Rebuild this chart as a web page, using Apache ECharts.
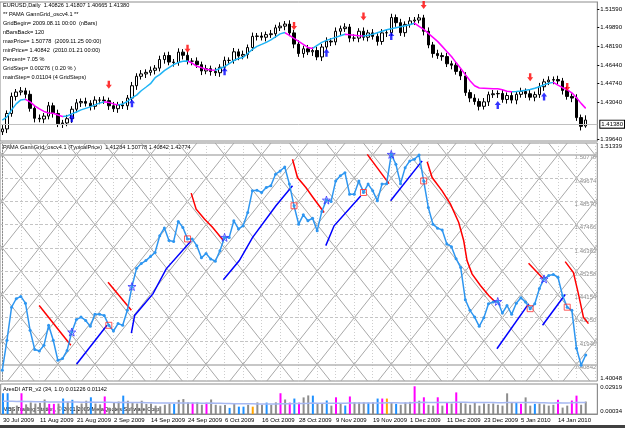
<!DOCTYPE html>
<html lang="en">
<head>
<meta charset="UTF-8">
<title>EURUSD Daily - PAMA GannGrid</title>
<script src="https://cdn.jsdelivr.net/npm/echarts/dist/echarts.min.js"></script>
<style>
  html, body { margin: 0; padding: 0; background: #ffffff; }
  #main { width: 625px; height: 428px; }
</style>
</head>
<body>
<div id="main"></div>
<script>
var FONT = 'Liberation Sans';
var SLOTS = 129; // 127 bars + chart shift on the right

// x axis date labels, one every 8 bars
var dateLabels = ['30 Jul 2009', '11 Aug 2009', '21 Aug 2009', '2 Sep 2009', '14 Sep 2009', '24 Sep 2009',
  '6 Oct 2009', '16 Oct 2009', '28 Oct 2009', '9 Nov 2009', '19 Nov 2009', '1 Dec 2009',
  '11 Dec 2009', '23 Dec 2009', '5 Jan 2010', '14 Jan 2010'];

// EURUSD daily candles
var opens = [1.4030, 1.4056, 1.4198, 1.4355, 1.4395, 1.4406, 1.4374, 1.4245, 1.4154, 1.4147,
  1.4174, 1.4269, 1.4198, 1.4103, 1.4111, 1.4150, 1.4237, 1.4296, 1.4308, 1.4292,
  1.4264, 1.4321, 1.4321, 1.4316, 1.4269, 1.4242, 1.4277, 1.4269, 1.4340, 1.4453,
  1.4540, 1.4562, 1.4576, 1.4595, 1.4615, 1.4694, 1.4731, 1.4671, 1.4667, 1.4762,
  1.4733, 1.4679, 1.4679, 1.4647, 1.4589, 1.4610, 1.4584, 1.4573, 1.4623, 1.4686,
  1.4686, 1.4765, 1.4726, 1.4741, 1.4804, 1.4907, 1.4910, 1.4899, 1.4923, 1.4931,
  1.4986, 1.5001, 1.5020, 1.4939, 1.4836, 1.4749, 1.4793, 1.4765, 1.4777, 1.4718,
  1.4809, 1.4863, 1.4856, 1.4954, 1.4978, 1.4993, 1.4891, 1.4891, 1.4954, 1.4899,
  1.4939, 1.4907, 1.4860, 1.4939, 1.4941, 1.5080, 1.5033, 1.4941, 1.5017, 1.5049,
  1.5057, 1.5077, 1.4954, 1.4828, 1.4749, 1.4730, 1.4721, 1.4655, 1.4642, 1.4585,
  1.4543, 1.4390, 1.4340, 1.4308, 1.4264, 1.4305, 1.4371, 1.4379, 1.4382, 1.4327,
  1.4363, 1.4321, 1.4374, 1.4400, 1.4379, 1.4348, 1.4371, 1.4444, 1.4489, 1.4505,
  1.4510, 1.4497, 1.4410, 1.4355, 1.4340, 1.4160, 1.4083];
var closes = [1.4056, 1.4198, 1.4355, 1.4395, 1.4406, 1.4374, 1.4245, 1.4154, 1.4147, 1.4174,
  1.4269, 1.4198, 1.4103, 1.4111, 1.4150, 1.4237, 1.4296, 1.4308, 1.4292, 1.4264,
  1.4321, 1.4321, 1.4316, 1.4269, 1.4242, 1.4277, 1.4269, 1.4340, 1.4453, 1.4540,
  1.4562, 1.4576, 1.4595, 1.4615, 1.4694, 1.4731, 1.4671, 1.4667, 1.4762, 1.4733,
  1.4679, 1.4679, 1.4647, 1.4589, 1.4610, 1.4584, 1.4573, 1.4623, 1.4686, 1.4686,
  1.4765, 1.4726, 1.4741, 1.4804, 1.4907, 1.4910, 1.4899, 1.4923, 1.4931, 1.4986,
  1.5001, 1.5020, 1.4939, 1.4836, 1.4749, 1.4793, 1.4765, 1.4777, 1.4718, 1.4809,
  1.4863, 1.4856, 1.4954, 1.4978, 1.4993, 1.4891, 1.4891, 1.4954, 1.4899, 1.4939,
  1.4907, 1.4860, 1.4939, 1.4941, 1.5080, 1.5033, 1.4941, 1.5017, 1.5049, 1.5057,
  1.5077, 1.4954, 1.4828, 1.4749, 1.4730, 1.4721, 1.4655, 1.4642, 1.4585, 1.4543,
  1.4390, 1.4340, 1.4308, 1.4264, 1.4305, 1.4371, 1.4379, 1.4382, 1.4327, 1.4363,
  1.4321, 1.4374, 1.4400, 1.4379, 1.4348, 1.4371, 1.4444, 1.4489, 1.4505, 1.4510,
  1.4497, 1.4410, 1.4355, 1.4340, 1.4160, 1.4080, 1.4138];
var highs = [1.4091, 1.4226, 1.4390, 1.4423, 1.4441, 1.4434, 1.4409, 1.4273, 1.4189, 1.4202,
  1.4304, 1.4297, 1.4233, 1.4139, 1.4185, 1.4265, 1.4331, 1.4336, 1.4343, 1.4320,
  1.4356, 1.4349, 1.4356, 1.4344, 1.4304, 1.4305, 1.4312, 1.4368, 1.4488, 1.4568,
  1.4597, 1.4604, 1.4630, 1.4643, 1.4729, 1.4759, 1.4766, 1.4699, 1.4797, 1.4790,
  1.4768, 1.4707, 1.4714, 1.4675, 1.4645, 1.4638, 1.4619, 1.4651, 1.4721, 1.4714,
  1.4800, 1.4793, 1.4776, 1.4832, 1.4942, 1.4938, 1.4945, 1.4951, 1.4966, 1.5014,
  1.5036, 1.5048, 1.5055, 1.4967, 1.4871, 1.4821, 1.4828, 1.4805, 1.4812, 1.4837,
  1.4898, 1.4891, 1.4989, 1.5006, 1.5028, 1.5021, 1.4926, 1.4982, 1.4989, 1.4967,
  1.4974, 1.4935, 1.4974, 1.4969, 1.5115, 1.5108, 1.5068, 1.5045, 1.5084, 1.5085,
  1.5112, 1.5105, 1.4989, 1.4856, 1.4784, 1.4758, 1.4756, 1.4683, 1.4677, 1.4613,
  1.4578, 1.4418, 1.4375, 1.4336, 1.4340, 1.4399, 1.4414, 1.4410, 1.4417, 1.4391,
  1.4398, 1.4402, 1.4435, 1.4428, 1.4414, 1.4399, 1.4479, 1.4517, 1.4540, 1.4538,
  1.4545, 1.4525, 1.4445, 1.4383, 1.4375, 1.4188, 1.4181];
var lows = [1.4000, 1.4018, 1.4168, 1.4317, 1.4365, 1.4336, 1.4215, 1.4116, 1.4117, 1.4109,
  1.4144, 1.4160, 1.4073, 1.4065, 1.4081, 1.4112, 1.4207, 1.4258, 1.4262, 1.4226,
  1.4234, 1.4283, 1.4286, 1.4231, 1.4212, 1.4204, 1.4239, 1.4231, 1.4310, 1.4415,
  1.4510, 1.4524, 1.4546, 1.4557, 1.4585, 1.4656, 1.4641, 1.4629, 1.4637, 1.4695,
  1.4649, 1.4641, 1.4617, 1.4551, 1.4559, 1.4546, 1.4543, 1.4535, 1.4593, 1.4648,
  1.4656, 1.4688, 1.4696, 1.4703, 1.4774, 1.4869, 1.4869, 1.4861, 1.4893, 1.4893,
  1.4956, 1.4963, 1.4909, 1.4798, 1.4719, 1.4711, 1.4735, 1.4727, 1.4688, 1.4680,
  1.4779, 1.4818, 1.4826, 1.4916, 1.4948, 1.4853, 1.4861, 1.4853, 1.4869, 1.4861,
  1.4877, 1.4822, 1.4830, 1.4901, 1.4911, 1.4995, 1.4911, 1.4903, 1.4987, 1.5011,
  1.5027, 1.4916, 1.4798, 1.4711, 1.4700, 1.4683, 1.4625, 1.4604, 1.4555, 1.4505,
  1.4360, 1.4302, 1.4278, 1.4226, 1.4234, 1.4267, 1.4341, 1.4341, 1.4297, 1.4289,
  1.4291, 1.4283, 1.4344, 1.4341, 1.4318, 1.4310, 1.4341, 1.4406, 1.4459, 1.4467,
  1.4467, 1.4372, 1.4325, 1.4302, 1.4130, 1.4042, 1.4067];

// smoothed PAMA line of the price pane (cyan rising, magenta falling)
var pama = [1.4138, 1.4166, 1.4231, 1.4286, 1.4323, 1.4328, 1.4305, 1.4268, 1.4240, 1.4217,
  1.4203, 1.4200, 1.4184, 1.4170, 1.4175, 1.4194, 1.4212, 1.4231, 1.4245, 1.4259,
  1.4277, 1.4293, 1.4305, 1.4300, 1.4286, 1.4277, 1.4286, 1.4308, 1.4342, 1.4367,
  1.4407, 1.4439, 1.4472, 1.4527, 1.4555, 1.4592, 1.4620, 1.4648, 1.4666, 1.4678,
  1.4680, 1.4662, 1.4632, 1.4620, 1.4604, 1.4597, 1.4595, 1.4611, 1.4629, 1.4657,
  1.4685, 1.4703, 1.4713, 1.4750, 1.4787, 1.4815, 1.4833, 1.4852, 1.4875, 1.4903,
  1.4930, 1.4942, 1.4917, 1.4889, 1.4861, 1.4833, 1.4805, 1.4796, 1.4824, 1.4852,
  1.4870, 1.4884, 1.4898, 1.4912, 1.4926, 1.4921, 1.4917, 1.4912, 1.4910, 1.4917,
  1.4926, 1.4940, 1.4954, 1.4968, 1.4977, 1.4986, 1.4995, 1.5005, 1.5014, 1.5028,
  1.5000, 1.4972, 1.4935, 1.4898, 1.4861, 1.4815, 1.4768, 1.4722, 1.4666, 1.4611,
  1.4555, 1.4500, 1.4453, 1.4432, 1.4430, 1.4428, 1.4426, 1.4425, 1.4416, 1.4402,
  1.4398, 1.4400, 1.4405, 1.4411, 1.4418, 1.4430, 1.4444, 1.4462, 1.4476, 1.4484,
  1.4458, 1.4435, 1.4416, 1.4388, 1.4342, 1.4291, 1.4245];

// signal arrows in the price pane
var sellBars = [23, 40, 63, 78, 91, 114, 122];
var sellArrowPrice = [1.4462, 1.4793, 1.5003, 1.5090, 1.5195, 1.4530, 1.4441];
var buyBars = [15, 28, 48, 70, 84, 107, 117];
var buyArrowPrice = [1.4154, 1.4291, 1.4586, 1.4756, 1.4910, 1.4277, 1.4354];

var priceTicks = [1.5159, 1.4989, 1.4819, 1.4644, 1.4474, 1.4304, 1.3964];
var lastPrice = 1.4138;
var priceRange = [1.3945, 1.5223];

// oscillator pane: typical price and Gann grid settings
var typical = [1.4056, 1.4198, 1.4355, 1.4395, 1.4406, 1.4374, 1.4245, 1.4154, 1.4147, 1.4174,
  1.4269, 1.4198, 1.4103, 1.4111, 1.4150, 1.4237, 1.4296, 1.4308, 1.4292, 1.4264,
  1.4321, 1.4321, 1.4316, 1.4269, 1.4242, 1.4277, 1.4269, 1.4340, 1.4453, 1.4540,
  1.4562, 1.4576, 1.4595, 1.4615, 1.4694, 1.4731, 1.4671, 1.4667, 1.4762, 1.4733,
  1.4679, 1.4679, 1.4647, 1.4589, 1.4610, 1.4584, 1.4573, 1.4623, 1.4686, 1.4686,
  1.4765, 1.4726, 1.4741, 1.4804, 1.4907, 1.4910, 1.4899, 1.4923, 1.4931, 1.4986,
  1.5001, 1.5020, 1.4939, 1.4836, 1.4749, 1.4793, 1.4765, 1.4777, 1.4718, 1.4809,
  1.4863, 1.4856, 1.4954, 1.4978, 1.4993, 1.4891, 1.4891, 1.4954, 1.4899, 1.4939,
  1.4907, 1.4860, 1.4939, 1.4941, 1.5080, 1.5033, 1.4941, 1.5017, 1.5049, 1.5057,
  1.5077, 1.4954, 1.4828, 1.4749, 1.4730, 1.4721, 1.4655, 1.4642, 1.4585, 1.4543,
  1.4390, 1.4340, 1.4308, 1.4264, 1.4305, 1.4371, 1.4379, 1.4382, 1.4327, 1.4363,
  1.4321, 1.4374, 1.4400, 1.4379, 1.4348, 1.4371, 1.4444, 1.4489, 1.4505, 1.4510,
  1.4497, 1.4410, 1.4355, 1.4340, 1.4160, 1.4080, 1.4128];
var minPrice = 1.40842, maxPrice = 1.50778, gridStep = 0.00276, mainStep = 0.01104;
var gridStartBar = 4;          // bar where a lattice vertex sits on the minPrice row
var oscRange = [1.40048, 1.51339];

var redFans = [
  [[7.96, 1.4363], [14.79, 1.4174]],
  [[22.83, 1.4473], [27.87, 1.4340]],
  [[40.79, 1.4896], [41.86, 1.4820], [43.65, 1.4773], [45.44, 1.4733], [47.74, 1.4671]],
  [[62.67, 1.5057], [63.75, 1.4970], [65.56, 1.4923], [67.34, 1.4868], [69.50, 1.4804]],
  [[78.82, 1.5080], [83.50, 1.4941]],
  [[91.75, 1.5045], [92.83, 1.4970], [94.98, 1.4907], [96.79, 1.4844], [98.57, 1.4757], [99.65, 1.4670],
   [100.36, 1.4576], [101.44, 1.4513], [103.25, 1.4458], [105.04, 1.4410], [106.48, 1.4379]],
  [[113.65, 1.4563], [116.88, 1.4489]],
  [[121.56, 1.4571], [123.34, 1.4519], [124.42, 1.4418], [125.50, 1.4308], [126.58, 1.4277]]
];
var blueFans = [
  [[16.02, 1.4084], [22.61, 1.4269]],
  [[27.87, 1.4232], [28.58, 1.4316], [32.52, 1.4418], [35.40, 1.4537], [40.79, 1.4670]],
  [[47.74, 1.4485], [51.19, 1.4576], [54.06, 1.4686], [59.09, 1.4836], [62.67, 1.4931]],
  [[69.86, 1.4647], [71.65, 1.4741], [77.40, 1.4883]],
  [[83.86, 1.4860], [90.67, 1.5049]],
  [[106.82, 1.4158], [113.65, 1.4371]],
  [[116.67, 1.4269], [121.56, 1.4415]]
];

// ATR pane
var atr = [0.0203, 0.0203, 0.0065, 0.0084, 0.0203, 0.0096, 0.0115, 0.0104, 0.0110, 0.0143,
  0.0101, 0.0101, 0.0104, 0.0152, 0.0123, 0.0140, 0.0084, 0.0104, 0.0131, 0.0164,
  0.0104, 0.0096, 0.0172, 0.0065, 0.0115, 0.0123, 0.0180, 0.0131, 0.0115, 0.0104,
  0.0131, 0.0100, 0.0104, 0.0084, 0.0077, 0.0092, 0.0104, 0.0101, 0.0139, 0.0147,
  0.0115, 0.0113, 0.0115, 0.0092, 0.0113, 0.0143, 0.0092, 0.0084, 0.0090, 0.0062,
  0.0104, 0.0074, 0.0074, 0.0092, 0.0074, 0.0115, 0.0092, 0.0113, 0.0092, 0.0115,
  0.0203, 0.0143, 0.0113, 0.0152, 0.0113, 0.0163, 0.0182, 0.0180, 0.0100, 0.0105,
  0.0133, 0.0084, 0.0164, 0.0104, 0.0085, 0.0172, 0.0115, 0.0115, 0.0115, 0.0113,
  0.0115, 0.0152, 0.0152, 0.0152, 0.0115, 0.0101, 0.0092, 0.0115, 0.0120, 0.0270,
  0.0131, 0.0164, 0.0092, 0.0084, 0.0164, 0.0084, 0.0113, 0.0104, 0.0211, 0.0115,
  0.0104, 0.0092, 0.0115, 0.0084, 0.0104, 0.0100, 0.0104, 0.0092, 0.0084, 0.0202,
  0.0115, 0.0113, 0.0101, 0.0163, 0.0084, 0.0101, 0.0104, 0.0095, 0.0084, 0.0092,
  0.0140, 0.0065, 0.0084, 0.0133, 0.0180, 0.0092, 0.0123];
// g = gray, b = blue, m = magenta, o = orange
var atrColorCodes = 'bbggmggggg' + 'mmgbgbgggb' + 'ggmgggbggg' + 'gggggggbgg' + 'gmggmggggb' +
  'gbbgoggbgg' + 'mgmbmggbgg' + 'bgmgbmgggb' + 'gbmogbgggm' + 'gmggmgmgmg' +
  'gggggggggg' + 'gbmggbgggg' + 'mggmmgg';
var atrAvg = [0.0125, 0.0126, 0.0125, 0.0124, 0.0125, 0.0124, 0.0123, 0.0122, 0.0121, 0.0121,
  0.0120, 0.0120, 0.0119, 0.0120, 0.0119, 0.0119, 0.0118, 0.0117, 0.0117, 0.0118,
  0.0117, 0.0116, 0.0117, 0.0116, 0.0115, 0.0115, 0.0116, 0.0115, 0.0114, 0.0113,
  0.0113, 0.0112, 0.0111, 0.0110, 0.0109, 0.0108, 0.0108, 0.0108, 0.0108, 0.0109,
  0.0108, 0.0108, 0.0108, 0.0107, 0.0107, 0.0108, 0.0107, 0.0106, 0.0105, 0.0104,
  0.0103, 0.0103, 0.0102, 0.0101, 0.0101, 0.0100, 0.0100, 0.0100, 0.0100, 0.0099,
  0.0102, 0.0102, 0.0103, 0.0104, 0.0104, 0.0105, 0.0106, 0.0108, 0.0107, 0.0106,
  0.0107, 0.0106, 0.0107, 0.0107, 0.0107, 0.0108, 0.0108, 0.0108, 0.0108, 0.0108,
  0.0108, 0.0109, 0.0110, 0.0111, 0.0111, 0.0111, 0.0110, 0.0110, 0.0110, 0.0115,
  0.0115, 0.0116, 0.0115, 0.0114, 0.0115, 0.0114, 0.0114, 0.0114, 0.0117, 0.0117,
  0.0116, 0.0115, 0.0115, 0.0114, 0.0114, 0.0113, 0.0113, 0.0112, 0.0111, 0.0113,
  0.0113, 0.0113, 0.0113, 0.0114, 0.0113, 0.0113, 0.0112, 0.0111, 0.0110, 0.0110,
  0.0111, 0.0110, 0.0110, 0.0111, 0.0113, 0.0113, 0.0114];
var atrRange = [0.00034, 0.02919];

var infoLines = [
  'EURUSD,Daily  1.40826 1.41807 1.40665 1.41380',
  '** PAMA GannGrid_oscv4.1 **',
  'GridBegin= 2009.08.11 00:00  (nBars)',
  'nBarsBack= 120',
  'maxPrice= 1.50778  (2009.11.25 00:00)',
  'minPrice= 1.40842  (2010.01.21 00:00)',
  'Percent= 7.05 %',
  'GridStep= 0.00276 ( 0.20 % )',
  'mainStep= 0.01104 (4 GridSteps)'
];
var oscTitle = 'PAMA GannGrid_oscv4.1 (TypicalPrice)  1.41284 1.50778 1.40842 1.42774';
var atrTitle = 'AresDI ATR_v2 (34, 1.0) 0.01226 0.01142';
var copyright = 'MBS Trading Station, \u00a9 2001-2009 MetaQuotes Software Corp.';

var atrColors = { g: '#8c8c8c', b: '#1e90ff', m: '#ff00ff', o: '#ffa500' };

var chart = echarts.init(document.getElementById('main'));

var cats = [];
for (var i = 0; i < SLOTS; i++) cats.push(i);

// candles in echarts order [open, close, low, high]
var candleData = opens.map(function (o, i) { return [o, closes[i], lows[i], highs[i]]; });

// colour pieces of the PAMA line by slope
var pamaPieces = [];
for (var k = 1; k < pama.length; k++) {
  var col = pama[k] >= pama[k - 1] ? '#1eb4f5' : '#ff00ff';
  var last = pamaPieces[pamaPieces.length - 1];
  if (last && last.color === col) last.lte = k;
  else pamaPieces.push({ gt: k - 1, lte: k, color: col });
}
pamaPieces[0].gt = -1;

function clipSeg(x1, y1, x2, y2, xmin, xmax) {
  if (x1 > x2) { var t = x1; x1 = x2; x2 = t; t = y1; y1 = y2; y2 = t; }
  if (x2 < xmin || x1 > xmax) return null;
  var s = (y2 - y1) / (x2 - x1);
  if (x1 < xmin) { y1 += s * (xmin - x1); x1 = xmin; }
  if (x2 > xmax) { y2 -= s * (x2 - xmax); x2 = xmax; }
  return [[x1, y1], [x2, y2]];
}

// Gann lattice
var xmin = -0.5, xmax = SLOTS - 0.5;
var lo = oscRange[0], hi = oscRange[1];
var diag = [], verts = [], rowsDashed = [], rowsSolid = [], rowLevels = [];
for (var a = gridStartBar - 48; a <= SLOTS + 48; a += 8) {
  var dLo = (lo - minPrice) / gridStep, dHi = (hi - minPrice) / gridStep;
  var up = clipSeg(a + dLo, lo, a + dHi, hi, xmin, xmax);
  var dn = clipSeg(a - dLo, lo, a - dHi, hi, xmin, xmax);
  if (up) diag.push({ coords: up });
  if (dn) diag.push({ coords: dn });
}
for (var v = 0; v < SLOTS; v += 4) verts.push({ coords: [[v, lo], [v, hi]] });
for (var r = 0; minPrice + r * mainStep <= maxPrice + 1e-6; r++) {
  var lvl = +(minPrice + r * mainStep).toFixed(5);
  rowLevels.push(lvl);
  var seg = { coords: [[xmin, lvl], [xmax, lvl]] };
  if (r === 0 || Math.abs(lvl - maxPrice) < 1e-6) rowsSolid.push(seg); else rowsDashed.push(seg);
}

var arrowDown = 'path://M3,0 L7,0 L7,5 L10,5 L5,10 L0,5 L3,5 Z';
var arrowUp = 'path://M5,0 L10,5 L7,5 L7,10 L3,10 L3,5 L0,5 Z';
var star = 'path://M5,0 L6.2,3.6 L10,3.6 L7,5.9 L8.1,9.5 L5,7.3 L1.9,9.5 L3,5.9 L0,3.6 L3.8,3.6 Z';

var axisGray = '#8c8c8c';
var labelBase = { fontFamily: FONT, fontSize: 6, color: '#000' };
var textFont = '5.6px "' + FONT + '"';

function note(t, x, y) {
  return { type: 'text', x: x, y: y, silent: true,
    style: { text: t, font: textFont, fill: '#000', verticalAlign: 'middle' } };
}
var graphics = infoLines.map(function (t, i) { return note(t, 3, 5 + 9 * i); });
graphics.push(note(oscTitle, 3, 147));
graphics.push(note(atrTitle, 3, 389));
graphics.push(note(copyright, 3, 409));
graphics.push({ type: 'rect', silent: true, shape: { x: 0, y: 425, width: 625, height: 3 }, style: { fill: '#404040' } });

var option = {
  animation: false,
  backgroundColor: '#ffffff',
  textStyle: { fontFamily: FONT },
  grid: [
    { left: 0, right: 26, top: 2, height: 139, show: true, borderColor: axisGray, borderWidth: 1 },
    { left: 0, right: 26, top: 143, height: 238, show: true, borderColor: axisGray, borderWidth: 1 },
    { left: 0, right: 26, top: 384, height: 30, show: true, borderColor: axisGray, borderWidth: 1 }
  ],
  xAxis: [
    { type: 'category', gridIndex: 0, data: cats, show: false },
    { type: 'value', gridIndex: 1, min: xmin, max: xmax, show: false },
    {
      type: 'category', gridIndex: 2, data: cats,
      axisLine: { lineStyle: { color: axisGray } },
      axisTick: { interval: 7, alignWithLabel: true, length: 2, lineStyle: { color: '#000' } },
      axisLabel: Object.assign({}, labelBase, {
        interval: 7, align: 'left', margin: 3,
        formatter: function (val, idx) { return dateLabels[idx / 8] || ''; }
      })
    }
  ],
  yAxis: [
    {
      type: 'value', gridIndex: 0, position: 'right', min: priceRange[0], max: priceRange[1],
      splitLine: { show: false },
      axisLine: { show: true, lineStyle: { color: axisGray } },
      axisTick: { show: true, customValues: priceTicks, length: 2, lineStyle: { color: '#000' } },
      axisLabel: Object.assign({}, labelBase, { customValues: priceTicks, margin: 3,
        formatter: function (v) { return v.toFixed(5); } })
    },
    {
      type: 'value', gridIndex: 1, position: 'right', min: oscRange[0], max: oscRange[1],
      splitLine: { show: false },
      axisLine: { show: true, lineStyle: { color: axisGray } },
      axisTick: { show: false },
      axisLabel: Object.assign({}, labelBase, { customValues: oscRange, margin: 3,
        verticalAlignMinLabel: 'bottom', verticalAlignMaxLabel: 'top',
        formatter: function (v) { return v.toFixed(5); } })
    },
    {
      type: 'value', gridIndex: 1, position: 'right', min: oscRange[0], max: oscRange[1],
      splitLine: { show: false }, axisLine: { show: false }, axisTick: { show: false },
      axisLabel: { fontFamily: FONT, fontSize: 6, color: '#8c8c8c', inside: true, margin: 1,
        verticalAlign: 'top', customValues: rowLevels,
        formatter: function (v) { return v.toFixed(5); } }
    },
    {
      type: 'value', gridIndex: 2, position: 'right', min: atrRange[0], max: atrRange[1],
      splitLine: { show: false },
      axisLine: { show: true, lineStyle: { color: axisGray } },
      axisTick: { show: false },
      axisLabel: Object.assign({}, labelBase, { customValues: atrRange, margin: 3,
        verticalAlignMinLabel: 'bottom', verticalAlignMaxLabel: 'top',
        formatter: function (v) { return v.toFixed(5); } })
    }
  ],
  visualMap: [
    { type: 'piecewise', show: false, seriesIndex: 1, dimension: 0, pieces: pamaPieces }
  ],
  series: [
    {
      type: 'candlestick', xAxisIndex: 0, yAxisIndex: 0, data: candleData, barWidth: 3, z: 3,
      itemStyle: { color: '#ffffff', color0: '#000000', borderColor: '#000000', borderColor0: '#000000', borderWidth: 1 },
      markLine: {
        silent: true, symbol: 'none', animation: false,
        lineStyle: { color: '#c0c0c0', width: 1, type: 'solid' },
        label: { position: 'end', distance: 3, formatter: lastPrice.toFixed(5), fontFamily: FONT, fontSize: 6,
          color: '#000', backgroundColor: '#ffffff', borderColor: '#000', borderWidth: 1, padding: [1, 1, 0, 1] },
        data: [{ yAxis: lastPrice }]
      }
    },
    {
      type: 'line', xAxisIndex: 0, yAxisIndex: 0, data: pama, symbol: 'none', z: 4,
      lineStyle: { width: 1.5 }
    },
    {
      type: 'scatter', xAxisIndex: 0, yAxisIndex: 0, symbol: arrowDown, symbolSize: [6, 8], z: 5,
      itemStyle: { color: '#ff0000' },
      data: sellBars.map(function (b, i) { return [b, sellArrowPrice[i]]; })
    },
    {
      type: 'scatter', xAxisIndex: 0, yAxisIndex: 0, symbol: arrowUp, symbolSize: [6, 8], z: 5,
      itemStyle: { color: '#0000ff' },
      data: buyBars.map(function (b, i) { return [b, buyArrowPrice[i]]; })
    },
    {
      type: 'lines', coordinateSystem: 'cartesian2d', xAxisIndex: 1, yAxisIndex: 1, silent: true, z: 1,
      lineStyle: { color: '#a8a8a8', width: 1, opacity: 1 }, data: diag
    },
    {
      type: 'lines', coordinateSystem: 'cartesian2d', xAxisIndex: 1, yAxisIndex: 1, silent: true, z: 1,
      lineStyle: { color: '#cdcdcd', width: 1, type: [1, 2], opacity: 1 }, data: verts
    },
    {
      type: 'lines', coordinateSystem: 'cartesian2d', xAxisIndex: 1, yAxisIndex: 1, silent: true, z: 1,
      lineStyle: { color: '#c4c4c4', width: 1, type: [3, 2], opacity: 1 }, data: rowsDashed
    },
    {
      type: 'lines', coordinateSystem: 'cartesian2d', xAxisIndex: 1, yAxisIndex: 1, silent: true, z: 1,
      lineStyle: { color: '#b4b4b4', width: 1.5, opacity: 1 }, data: rowsSolid
    },
    {
      type: 'lines', coordinateSystem: 'cartesian2d', xAxisIndex: 1, yAxisIndex: 1, polyline: true, silent: true, z: 3,
      lineStyle: { color: '#ff0000', width: 1.5, opacity: 1 },
      data: redFans.map(function (c) { return { coords: c }; })
    },
    {
      type: 'lines', coordinateSystem: 'cartesian2d', xAxisIndex: 1, yAxisIndex: 1, polyline: true, silent: true, z: 3,
      lineStyle: { color: '#0000ff', width: 1.5, opacity: 1 },
      data: blueFans.map(function (c) { return { coords: c }; })
    },
    {
      type: 'line', xAxisIndex: 1, yAxisIndex: 1, z: 4, symbol: 'circle', symbolSize: 3, showSymbol: true,
      itemStyle: { color: '#2e96f0' }, lineStyle: { color: '#2e96f0', width: 1.5 },
      data: typical.map(function (p, i) { return [i, p]; })
    },
    {
      type: 'scatter', xAxisIndex: 1, yAxisIndex: 1, z: 5, symbol: 'rect', symbolSize: 6,
      itemStyle: { color: 'rgba(255,255,255,0)', borderColor: '#ff3030', borderWidth: 1 },
      data: sellBars.map(function (b) { return [b, typical[b]]; })
    },
    {
      type: 'scatter', xAxisIndex: 1, yAxisIndex: 1, z: 5, symbol: star, symbolSize: 8,
      itemStyle: { color: 'rgba(255,255,255,0)', borderColor: '#3030ff', borderWidth: 1 },
      data: buyBars.map(function (b) { return [b, typical[b]]; })
    },
    {
      type: 'bar', xAxisIndex: 2, yAxisIndex: 3, barWidth: 2, z: 2,
      data: atr.map(function (val, i) {
        return { value: val, itemStyle: { color: atrColors[atrColorCodes.charAt(i)] } };
      })
    },
    {
      type: 'line', xAxisIndex: 2, yAxisIndex: 3, data: atrAvg, symbol: 'none', z: 3,
      lineStyle: { color: '#a6b8f2', width: 1.5 }
    }
  ],
  graphic: graphics
};

chart.setOption(option);
</script>
</body>
</html>
